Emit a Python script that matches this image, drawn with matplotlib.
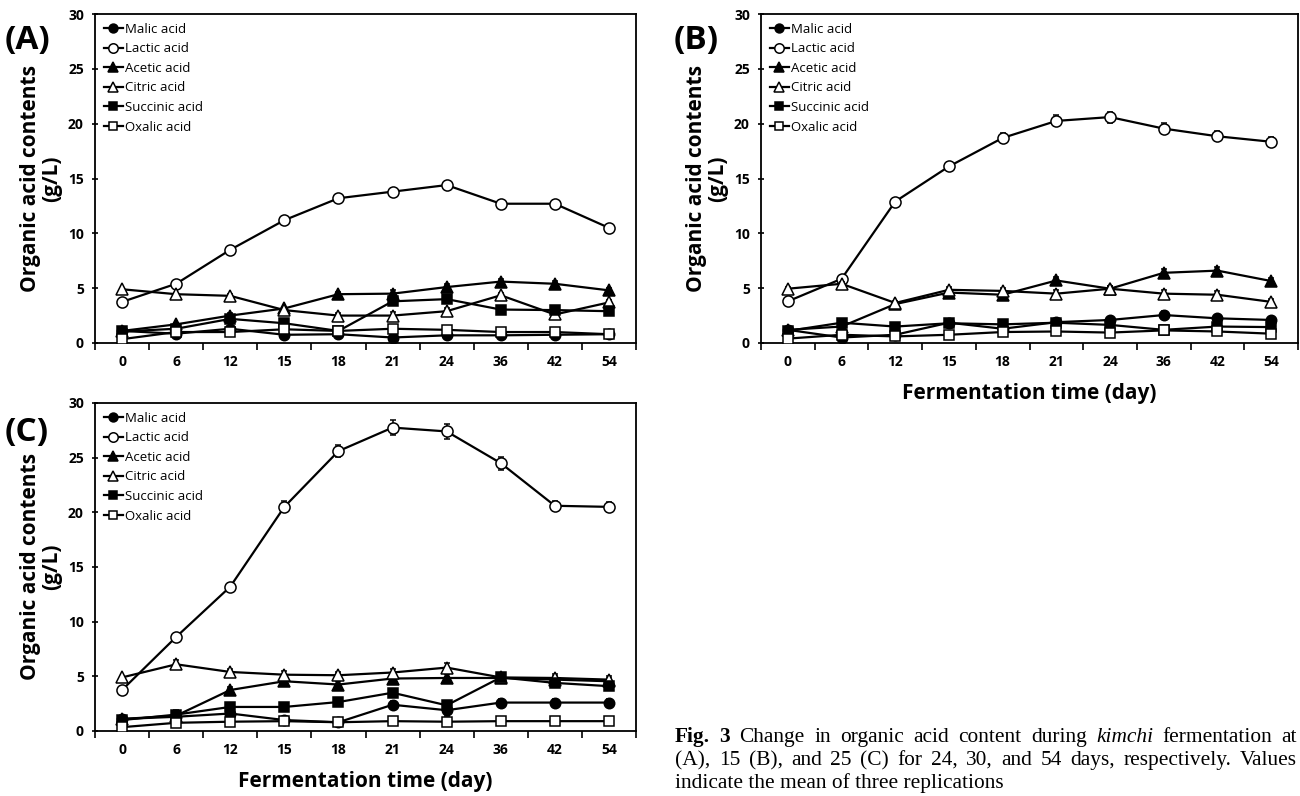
import numpy as np
import matplotlib
matplotlib.use("Agg")
import matplotlib.pyplot as plt

days = ["0", "6", "12", "15", "18", "21", "24", "36", "42", "54"]
series_names = ["Malic acid", "Lactic acid", "Acetic acid", "Citric acid", "Succinic acid", "Oxalic acid"]

# Panel A
a_malic = [1.1, 0.85, 1.3, 0.75, 0.8, 0.5, 0.7, 0.7, 0.75, 0.8]
a_lactic = [3.75, 5.4, 8.5, 11.2, 13.2, 13.8, 14.4, 12.7, 12.7, 10.5]
a_acetic = [1.1, 1.7, 2.5, 3.15, 4.45, 4.5, 5.1, 5.6, 5.4, 4.8]
a_citric = [4.9, 4.45, 4.3, 3.0, 2.5, 2.5, 2.9, 4.35, 2.6, 3.7]
a_succinic = [1.05, 1.3, 2.2, 1.8, 1.1, 3.8, 4.0, 3.05, 3.0, 2.9]
a_oxalic = [0.35, 1.0, 1.0, 1.25, 1.1, 1.3, 1.2, 1.0, 1.0, 0.8]
a_err_lactic = [0.2, 0.2, 0.2, 0.25, 0.3, 0.3, 0.35, 0.3, 0.3, 0.25]
a_err_other = [0.1, 0.15, 0.2, 0.15, 0.2, 0.3, 0.3, 0.25, 0.25, 0.2]

# Panel B
b_malic = [1.2, 0.5, 0.75, 1.85, 1.3, 1.9, 2.1, 2.55, 2.25, 2.1]
b_lactic = [3.8, 5.85, 12.9, 16.1, 18.7, 20.25, 20.6, 19.55, 18.85, 18.35]
b_acetic = [1.2, 1.5, 3.55, 4.6, 4.4, 5.7, 4.95, 6.4, 6.6, 5.65]
b_citric = [4.95, 5.4, 3.65, 4.85, 4.75, 4.5, 4.95, 4.5, 4.4, 3.75]
b_succinic = [1.1, 1.85, 1.5, 1.8, 1.7, 1.85, 1.65, 1.2, 1.5, 1.45]
b_oxalic = [0.4, 0.75, 0.6, 0.75, 1.0, 1.05, 0.95, 1.15, 1.05, 0.85]
b_err_lactic = [0.2, 0.2, 0.3, 0.4, 0.45, 0.5, 0.5, 0.5, 0.45, 0.4]
b_err_other = [0.15, 0.2, 0.2, 0.25, 0.25, 0.3, 0.25, 0.35, 0.3, 0.3]

# Panel C
c_malic = [1.1, 1.3, 1.6, 1.0, 0.8, 2.4, 1.9, 2.6, 2.6, 2.6]
c_lactic = [3.75, 8.6, 13.2, 20.5, 25.6, 27.75, 27.4, 24.5, 20.6, 20.5]
c_acetic = [1.1, 1.4, 3.75, 4.55, 4.25, 4.8, 4.85, 4.85, 4.7, 4.55]
c_citric = [4.9, 6.1, 5.4, 5.15, 5.1, 5.35, 5.8, 4.9, 4.85, 4.7]
c_succinic = [1.0, 1.5, 2.2, 2.2, 2.65, 3.5, 2.35, 4.9, 4.4, 4.1]
c_oxalic = [0.35, 0.75, 0.85, 0.9, 0.8, 0.9, 0.85, 0.9, 0.9, 0.9]
c_err_lactic = [0.2, 0.25, 0.35, 0.5, 0.55, 0.7, 0.7, 0.6, 0.45, 0.45]
c_err_other = [0.15, 0.4, 0.3, 0.3, 0.3, 0.35, 0.4, 0.3, 0.35, 0.3]

# Caption: (word, weight, style); lines 1 and 2 are justified
caption_line1 = [("Fig.", "bold", "normal"), ("3", "bold", "normal"), ("Change", "normal", "normal"),
                 ("in", "normal", "normal"), ("organic", "normal", "normal"), ("acid", "normal", "normal"),
                 ("content", "normal", "normal"), ("during", "normal", "normal"),
                 ("kimchi", "normal", "italic"), ("fermentation", "normal", "normal"), ("at", "normal", "normal")]
caption_line2 = [(w, "normal", "normal") for w in
                 "(A), 15 (B), and 25 (C) for 24, 30, and 54 days, respectively. Values".split()]
caption_line3 = "indicate the mean of three replications"

styles = [
    dict(marker="o", mfc="black", ms=7.5),
    dict(marker="o", mfc="white", ms=8),
    dict(marker="^", mfc="black", ms=8),
    dict(marker="^", mfc="white", ms=8),
    dict(marker="s", mfc="black", ms=7),
    dict(marker="s", mfc="white", ms=7),
]

W, H = 1300, 796
fig = plt.figure(figsize=(W / 100, H / 100), dpi=100)
plt.rcParams["font.family"] = ["Open Sans", "DejaVu Sans"]


def box(l, r, t, b):
    return [l / W, 1 - b / H, (r - l) / W, (b - t) / H]


panels = [
    ("(A)", box(95, 636, 14, 343), [a_malic, a_lactic, a_acetic, a_citric, a_succinic, a_oxalic],
     a_err_lactic, a_err_other, False, (5, 40)),
    ("(B)", box(761, 1298, 14, 343), [b_malic, b_lactic, b_acetic, b_citric, b_succinic, b_oxalic],
     b_err_lactic, b_err_other, True, (674, 40)),
    ("(C)", box(95, 636, 403, 731), [c_malic, c_lactic, c_acetic, c_citric, c_succinic, c_oxalic],
     c_err_lactic, c_err_other, True, (5, 433)),
]

for label, rect, data, err_l, err_o, show_xlabel, lab_pos in panels:
    ax = fig.add_axes(rect)
    x = np.arange(len(days))
    for i, (name, vals) in enumerate(zip(series_names, data)):
        st = styles[i]
        err = err_l if i == 1 else err_o
        ax.errorbar(x, vals, yerr=err, color="black", lw=1.6, marker=st["marker"],
                    mfc=st["mfc"], mec="black", mew=1.1, ms=st["ms"],
                    elinewidth=1.1, capsize=2.5, capthick=1.1, label=name, zorder=3 + i * 0.1)
    ax.set_xlim(-0.5, len(days) - 0.5)
    ax.set_ylim(0, 30)
    ax.set_yticks(np.arange(0, 31, 5))
    ax.set_yticklabels([str(v) for v in range(0, 31, 5)], fontweight="bold", fontsize=10)
    ax.set_xticks(np.arange(-0.5, len(days), 1))
    ax.set_xticklabels([])
    ax.set_xticks(x, minor=True)
    ax.set_xticklabels(days, minor=True, fontweight="bold", fontsize=10)
    ax.tick_params(axis="x", which="minor", length=0, pad=9)
    ax.tick_params(axis="x", which="major", length=5, width=1.2, direction="out")
    ax.tick_params(axis="y", which="major", length=4, width=1.2, direction="inout", pad=6)
    for sp in ax.spines.values():
        sp.set_linewidth(1.3)
    ax.set_ylabel("Organic acid contents\n(g/L)", fontweight="bold", fontsize=15,
                  linespacing=1.0, labelpad=4)
    if show_xlabel:
        ax.set_xlabel("Fermentation time (day)", fontweight="bold", fontsize=15, labelpad=10)
    handles, labels = ax.get_legend_handles_labels()
    handles = [h[0] for h in handles]
    ax.legend(handles, labels, loc="upper left", frameon=False, fontsize=9.5,
              handlelength=1.5, handletextpad=0.1, labelspacing=0.5,
              borderaxespad=0.3, borderpad=0.35, markerscale=0.85)
    fig.text(lab_pos[0] / W, 1 - lab_pos[1] / H, label, fontsize=24, fontweight="bold",
             ha="left", va="center")

# Caption
fig.canvas.draw()
renderer = fig.canvas.get_renderer()
cap_kw = dict(fontsize=15.4, family=["Liberation Serif", "DejaVu Serif"], va="baseline", ha="left")
x0, x1 = 675, 1297


def justified(words, base_y):
    objs = []
    widths = []
    for w, wgt, sty in words:
        t = fig.text(0, 1 - base_y / H, w, fontweight=wgt, fontstyle=sty, **cap_kw)
        widths.append(t.get_window_extent(renderer=renderer).width)
        objs.append(t)
    gap = (x1 - x0 - sum(widths)) / (len(words) - 1)
    xx = x0
    for t, wd in zip(objs, widths):
        t.set_x(xx / W)
        xx += wd + gap


justified(caption_line1, 742)
justified(caption_line2, 765)
fig.text(x0 / W, 1 - 788 / H, caption_line3, **cap_kw)

fig.savefig("out.png", dpi=100)
